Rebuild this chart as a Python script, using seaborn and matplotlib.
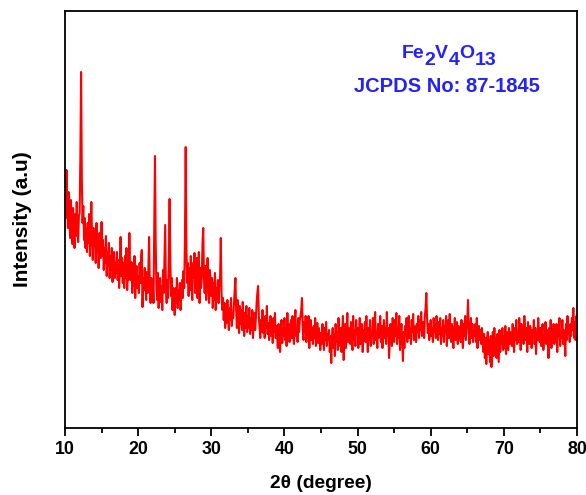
import matplotlib
matplotlib.use("Agg")
import matplotlib.pyplot as plt
from matplotlib.transforms import IdentityTransform
from matplotlib.ticker import MultipleLocator
import seaborn as sns
import numpy as np
import pandas as pd

# 2-theta grid start/step (degrees)
two_theta_start = 10.0
two_theta_step = 0.1

# Intensity (a.u.), 10 values per degree, 10.0 ... 80.0
intensity_rows = [
    [245, 210, 258, 222, 200, 236, 214, 190, 228, 205],  # 10
    [184, 220, 198, 180, 214, 192, 226, 200, 186, 212],  # 11
    [215, 270, 356, 250, 205, 222, 188, 210, 180, 200],  # 12
    [176, 205, 185, 214, 172, 196, 226, 190, 168, 200],  # 13
    [182, 196, 165, 205, 175, 188, 160, 195, 178, 170],  # 14
    [206, 172, 188, 158, 180, 165, 192, 152, 176, 162],  # 15
    [185, 150, 172, 158, 180, 146, 168, 176, 150, 165],  # 16
    [155, 176, 148, 168, 140, 160, 191, 152, 170, 145],  # 17
    [165, 140, 172, 150, 180, 138, 160, 148, 195, 155],  # 18
    [148, 166, 135, 158, 142, 172, 130, 155, 162, 140],  # 19
    [152, 135, 165, 145, 170, 178, 121, 150, 138, 160],  # 20
    [142, 128, 156, 135, 160, 191, 138, 125, 150, 132],  # 21
    [145, 125, 200, 272, 185, 140, 128, 155, 120, 138],  # 22
    [150, 126, 142, 118, 158, 135, 170, 203, 140, 125],  # 23
    [148, 130, 170, 229, 165, 132, 150, 118, 140, 128],  # 24
    [113, 140, 125, 150, 120, 138, 128, 145, 118, 135],  # 25
    [148, 130, 157, 140, 190, 281, 180, 145, 165, 132],  # 26
    [160, 138, 172, 145, 128, 165, 150, 175, 135, 158],  # 27
    [170, 130, 155, 176, 125, 160, 140, 150, 185, 200],  # 28
    [150, 135, 162, 128, 155, 170, 140, 125, 158, 145],  # 29
    [132, 150, 120, 145, 128, 155, 118, 140, 130, 148],  # 30
    [125, 142, 150, 190, 135, 118, 130, 108, 125, 100],  # 31
    [122, 105, 128, 112, 98, 120, 108, 130, 102, 115],   # 32
    [110, 125, 138, 150, 118, 100, 128, 112, 95, 122],   # 33
    [104, 118, 98, 126, 108, 92, 115, 100, 122, 96],     # 34
    [112, 100, 120, 94, 110, 98, 118, 90, 108, 115],     # 35
    [98, 110, 125, 135, 142, 112, 100, 90, 108, 96],     # 36
    [118, 95, 108, 90, 112, 100, 122, 94, 105, 88],      # 37
    [100, 112, 92, 106, 85, 110, 96, 115, 90, 102],      # 38
    [92, 80, 104, 88, 76, 98, 108, 85, 100, 92],         # 39
    [110, 88, 100, 82, 115, 92, 104, 86, 98, 108],       # 40
    [90, 112, 95, 84, 106, 118, 92, 100, 86, 110],       # 41
    [96, 108, 112, 118, 130, 100, 88, 106, 95, 112],     # 42
    [86, 104, 92, 112, 80, 98, 108, 88, 100, 84],        # 43
    [102, 90, 110, 82, 96, 105, 85, 100, 92, 78],        # 44
    [95, 84, 104, 92, 78, 100, 88, 106, 82, 94],         # 45
    [88, 98, 76, 92, 65, 90, 100, 80, 94, 72],           # 46
    [104, 86, 96, 78, 110, 90, 82, 100, 76, 98],         # 47
    [112, 68, 90, 104, 80, 96, 115, 86, 100, 92],        # 48
    [84, 106, 92, 78, 112, 88, 98, 82, 108, 94],         # 49
    [100, 80, 96, 110, 84, 92, 104, 76, 98, 88],         # 50
    [106, 86, 112, 92, 76, 100, 88, 108, 82, 96],        # 51
    [92, 110, 84, 100, 116, 88, 96, 80, 104, 90],        # 52
    [98, 112, 86, 102, 80, 94, 108, 90, 100, 84],        # 53
    [116, 92, 100, 70, 88, 104, 96, 82, 110, 94],        # 54
    [86, 108, 92, 115, 84, 100, 90, 112, 78, 96],        # 55
    [104, 88, 67, 96, 80, 102, 92, 110, 86, 98],         # 56
    [112, 90, 100, 84, 108, 96, 114, 88, 102, 94],       # 57
    [86, 104, 96, 112, 90, 108, 98, 116, 92, 100],       # 58
    [106, 90, 112, 120, 135, 110, 95, 104, 88, 100],     # 59
    [108, 92, 100, 86, 110, 96, 104, 90, 112, 98],       # 60
    [88, 106, 94, 110, 84, 100, 92, 108, 86, 102],       # 61
    [96, 112, 82, 100, 108, 90, 114, 94, 86, 104],       # 62
    [92, 80, 100, 110, 88, 96, 106, 84, 102, 90],        # 63
    [98, 86, 108, 94, 80, 104, 92, 112, 88, 100],        # 64
    [106, 128, 96, 84, 100, 110, 90, 104, 86, 98],       # 65
    [92, 104, 86, 110, 80, 96, 102, 88, 98, 84],         # 66
    [100, 88, 76, 94, 70, 90, 64, 86, 96, 74],           # 67
    [88, 66, 92, 61, 80, 96, 72, 100, 78, 90],           # 68
    [70, 94, 80, 66, 98, 76, 90, 84, 100, 78],           # 69
    [92, 80, 102, 74, 96, 86, 78, 100, 84, 94],          # 70
    [96, 82, 104, 90, 76, 100, 88, 108, 84, 92],         # 71
    [86, 110, 94, 78, 104, 90, 100, 84, 112, 96],        # 72
    [88, 100, 76, 106, 92, 84, 102, 96, 80, 98],         # 73
    [90, 108, 84, 100, 74, 96, 88, 110, 92, 86],         # 74
    [100, 82, 96, 104, 78, 92, 88, 106, 84, 98],         # 75
    [94, 70, 100, 86, 108, 80, 96, 90, 104, 84],         # 76
    [98, 86, 104, 76, 100, 92, 110, 82, 96, 90],         # 77
    [108, 84, 98, 92, 72, 104, 88, 112, 94, 100],        # 78
    [86, 104, 92, 110, 98, 120, 90, 106, 88, 112],       # 79
    [96],                                                # 80
]

x_ticks = [10, 20, 30, 40, 50, 60, 70, 80]
phase_pieces = [("Fe", False), ("2", True), ("V", False), ("4", True),
                ("O", False), ("13", True)]
card_text = "JCPDS No: 87-1845"
x_label = "2θ (degree)"
y_label = "Intensity (a.u)"

intensity = [v for row in intensity_rows for v in row]
two_theta = [round(two_theta_start + i * two_theta_step, 2) for i in range(len(intensity))]
df = pd.DataFrame({"two_theta": two_theta, "intensity": intensity})

sns.set_style("ticks")
plt.rcParams["font.family"] = ["Liberation Sans", "DejaVu Sans"]
plt.rcParams["text.color"] = "black"
plt.rcParams["axes.labelcolor"] = "black"
plt.rcParams["xtick.color"] = "black"
plt.rcParams["ytick.color"] = "black"

W, H = 586, 495
fig = plt.figure(figsize=(W / 100, H / 100), dpi=100)
ax = fig.add_axes([65 / W, 67 / H, 512 / W, 417 / H])

sns.lineplot(data=df, x="two_theta", y="intensity", ax=ax, color="#ff0000",
             linewidth=1.5, estimator=None, sort=False)

ax.set_xlim(10, 80)
ax.set_ylim(0, 417)
ax.set_xticks(x_ticks)
ax.xaxis.set_minor_locator(MultipleLocator(5))
ax.set_yticks([])
ax.tick_params(axis="x", which="major", direction="out", length=5.8, width=1.3,
               labelsize=12.8, pad=3.5)
ax.tick_params(axis="x", which="minor", direction="out", length=3.6, width=1.3)
for lab in ax.get_xticklabels():
    lab.set_fontweight("bold")
for sp in ax.spines.values():
    sp.set_visible(True)
    sp.set_linewidth(1.3)
    sp.set_color("black")

ax.set_xlabel(x_label, fontsize=13.8, fontweight="bold")
ax.xaxis.label.set_va("center")
ax.xaxis.set_label_coords(0.5, (428 - 484) / 417)
ax.set_ylabel(y_label, fontsize=15, fontweight="bold")
ax.yaxis.label.set_va("center")
ax.yaxis.set_label_coords((22.5 - 65) / 512, (428 - 219) / 417)

blue = "#2222ff"
# chemical formula with full-size, lowered subscripts
renderer = fig.canvas.get_renderer()
texts = []
total = 0.0
for s, sub in phase_pieces:
    t = fig.text(0, 0, s, transform=IdentityTransform(), fontsize=14,
                 fontweight="bold", color=blue, ha="left", va="baseline")
    w = t.get_window_extent(renderer).width
    texts.append((t, w, sub))
    total += w
x0 = 449 - total / 2
for t, w, sub in texts:
    t.set_position((x0, H - (65 if sub else 58)))
    x0 += w

fig.text(447, H - 86, card_text, transform=IdentityTransform(), fontsize=14.5,
         fontweight="bold", color=blue, ha="center", va="center")

fig.savefig("out.png", dpi=100)
